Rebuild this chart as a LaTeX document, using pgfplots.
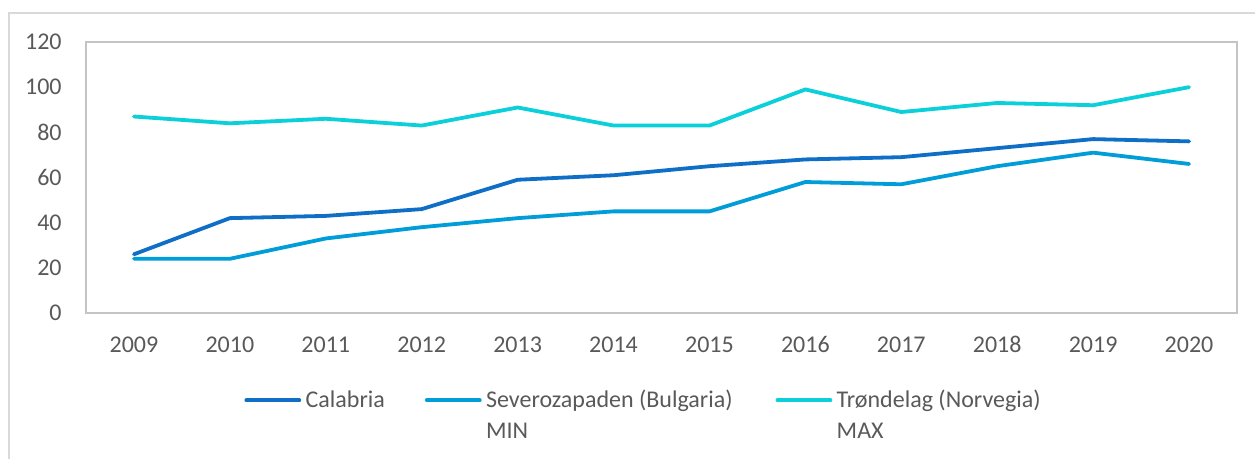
\documentclass[border=0pt]{standalone}
\usepackage{fontspec}
\setmainfont{Carlito}
\usepackage{pgfplots}
\pgfplotsset{compat=1.18}

\definecolor{calab}{HTML}{0F6FC6}
\definecolor{sever}{HTML}{009DD9}
\definecolor{trond}{HTML}{0BD0D9}
\definecolor{txtgray}{HTML}{595959}
\definecolor{framegray}{HTML}{C4C4C4}
\definecolor{outergray}{HTML}{D9D9D9}

\begin{document}
\begin{tikzpicture}
% picture frame: 1 px of the reference = 0.5bp
\path[use as bounding box] (0bp,0bp) rectangle (627.5bp,229.5bp);
\draw[outergray, line width=0.8bp] (4.5bp,0bp) -- (4.5bp,223bp) -- (627.5bp,223bp);

\begin{axis}[
    at={(43bp,73bp)}, anchor=south west,
    scale only axis,
    width=575.5bp, height=135.5bp,
    xmin=-0.5, xmax=11.5,
    ymin=0, ymax=120,
    xtick={0,1,2,3,4,5,6,7,8,9,10,11},
    xticklabels={2009,2010,2011,2012,2013,2014,2015,2016,2017,2018,2019,2020},
    ytick={0,20,40,60,80,100,120},
    major tick length=0pt,
    axis line style={framegray, line width=1bp},
    /pgf/number format/assume math mode=true,
    tick label style={font=\fontsize{12bp}{14bp}\selectfont, text=txtgray, inner sep=0pt},
    yticklabel style={anchor=east, xshift=-12bp},
    xticklabel style={anchor=base, yshift=-20bp},
    every axis plot/.append style={line width=1.9bp, line cap=round, line join=round},
    legend columns=3,
    legend image code/.code={\draw[#1] (0bp,0bp) -- (26.5bp,0bp);},
    legend style={
        at={(0.1373,-0.283)}, anchor=north west,
        draw=none, fill=none, inner sep=0pt,
        font=\fontsize{12bp}{15.5bp}\selectfont, text=txtgray,
        nodes={inner sep=0pt},
        /tikz/every odd column/.append style={column sep=2.2bp},
        /tikz/column 2/.append style={column sep=20bp},
        /tikz/column 4/.append style={column sep=21.5bp},
    },
]
% Calabria
\addplot[calab] coordinates {
    (0,26) (1,42) (2,43) (3,46) (4,59) (5,61) (6,65) (7,68) (8,69) (9,73) (10,77) (11,76)
};
\addlegendentry{Calabria}
% Severozapaden (Bulgaria) MIN
\addplot[sever] coordinates {
    (0,24) (1,24) (2,33) (3,38) (4,42) (5,45) (6,45) (7,58) (8,57) (9,65) (10,71) (11,66)
};
\addlegendentry{\vtop{\baselineskip=15.5bp\hbox{Severozapaden (Bulgaria)}\hbox{MIN}}}
% Trondelag (Norvegia) MAX
\addplot[trond] coordinates {
    (0,87) (1,84) (2,86) (3,83) (4,91) (5,83) (6,83) (7,99) (8,89) (9,93) (10,92) (11,100)
};
\addlegendentry{\vtop{\baselineskip=15.5bp\hbox{Trøndelag (Norvegia)}\hbox{MAX}}}
\end{axis}
\end{tikzpicture}
\end{document}
